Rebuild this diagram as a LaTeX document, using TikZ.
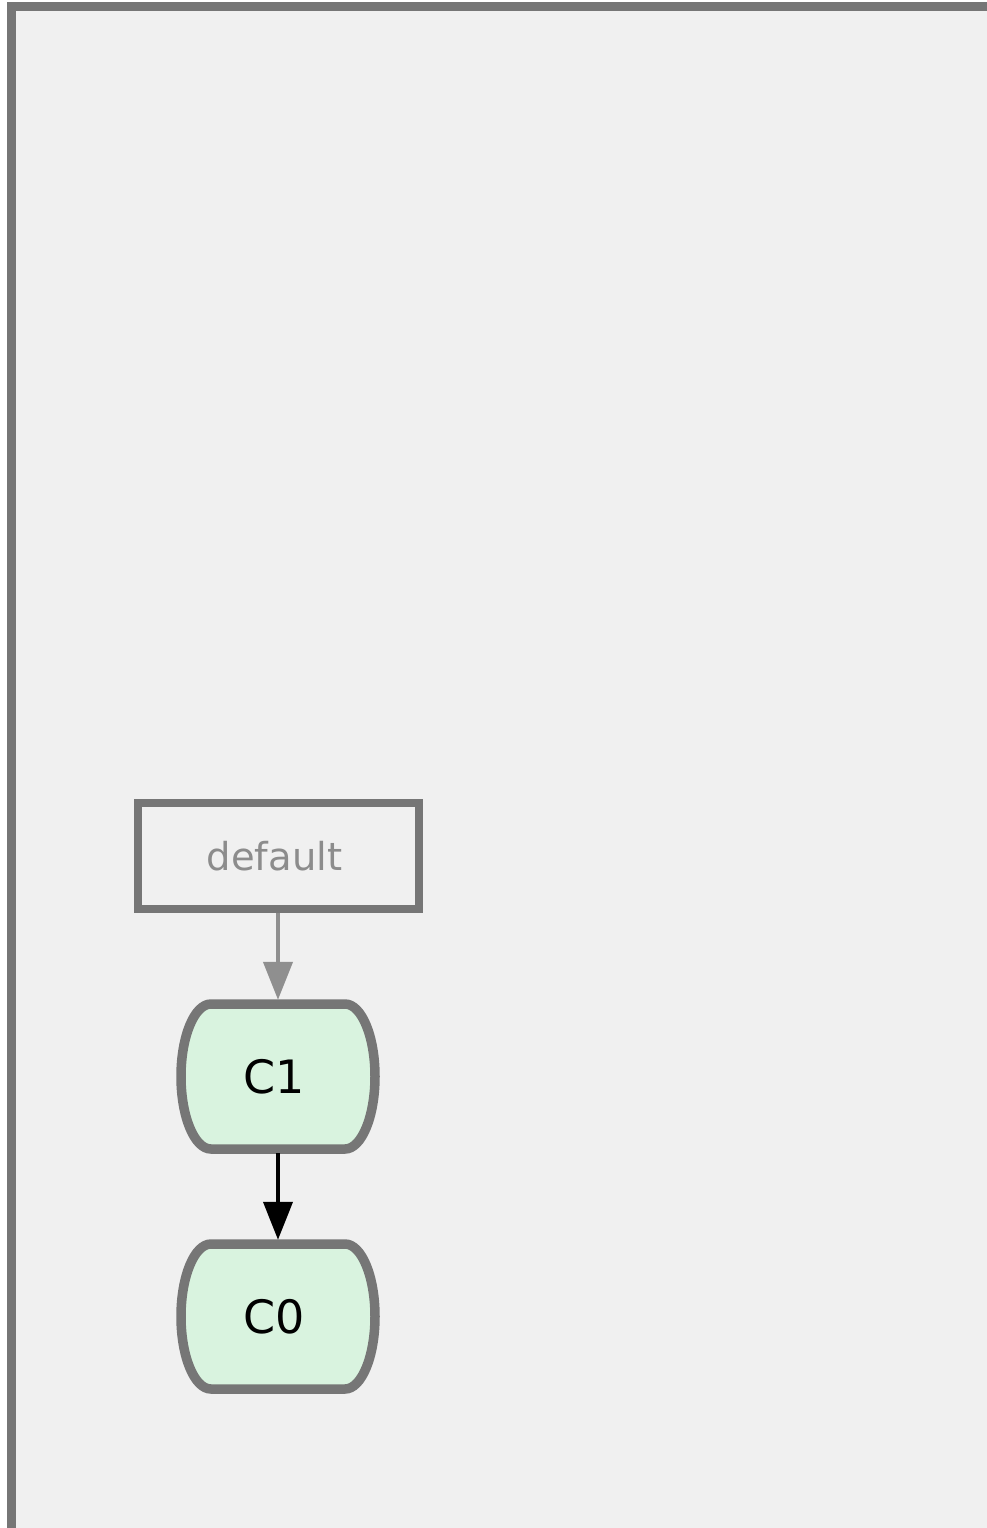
\documentclass[tikz,border=0pt]{standalone}
\usepackage{fontspec}
\setmainfont{DejaVu Sans}
\usetikzlibrary{arrows.meta}
\definecolor{bgc}{HTML}{F0F0F0}
\definecolor{framec}{HTML}{767676}
\definecolor{fillc}{HTML}{D9F3DF}
\definecolor{graya}{HTML}{8F8F8F}
\definecolor{grayt}{HTML}{8C8C8C}
\tikzset{
  commit/.style={draw=framec, line width=9.5pt, fill=fillc},
  label/.style={font=\fontsize{46}{52}\selectfont, text=black},
  refbox/.style={draw=framec, line width=8pt, minimum width=281pt, minimum height=106pt, inner sep=0pt},
  reftext/.style={font=\fontsize{38.5}{44}\selectfont, text=grayt, inner sep=0pt},
  ptr/.style={line width=4.3pt, -{Triangle[length=38pt,width=29pt]}},
}
\begin{document}
\begin{tikzpicture}[x=1pt,y=-1pt]
\useasboundingbox (0,0) rectangle (987,1528);
\clip (0,0) rectangle (987,1528);
\fill[white] (0,0) rectangle (987,1528);
\draw[draw=framec, fill=bgc, line width=9pt] (11.5,7) rectangle (1000,1540);
% default box
\node[refbox] (def) at (278,856) {};
\node[reftext] (deft) at (274.5,856) {default};
% commits
\draw[commit] (211,1004) -- (345,1004) arc[start angle=-90, end angle=90, x radius=30, y radius=72.5] -- (211,1149) arc[start angle=90, end angle=270, x radius=30, y radius=72.5] -- cycle;
\node[inner sep=0pt, minimum width=194pt, minimum height=145pt] (c1) at (278,1076.5) {};
\node[label, inner sep=0pt] (c1t) at (274,1076.5) {C1};
\draw[commit] (211,1244) -- (345,1244) arc[start angle=-90, end angle=90, x radius=30, y radius=72.5] -- (211,1389) arc[start angle=90, end angle=270, x radius=30, y radius=72.5] -- cycle;
\node[inner sep=0pt, minimum width=194pt, minimum height=145pt] (c0) at (278,1316.5) {};
\node[label, inner sep=0pt] (c0t) at (274,1316.5) {C0};
% connectors
\draw[ptr, draw=graya, fill=graya] (def.south) -- ([yshift=4pt]c1.north);
\draw[ptr, draw=black, fill=black, line width=4pt] ([yshift=-4pt]c1.south) -- ([yshift=4pt]c0.north);
\end{tikzpicture}
\end{document}
